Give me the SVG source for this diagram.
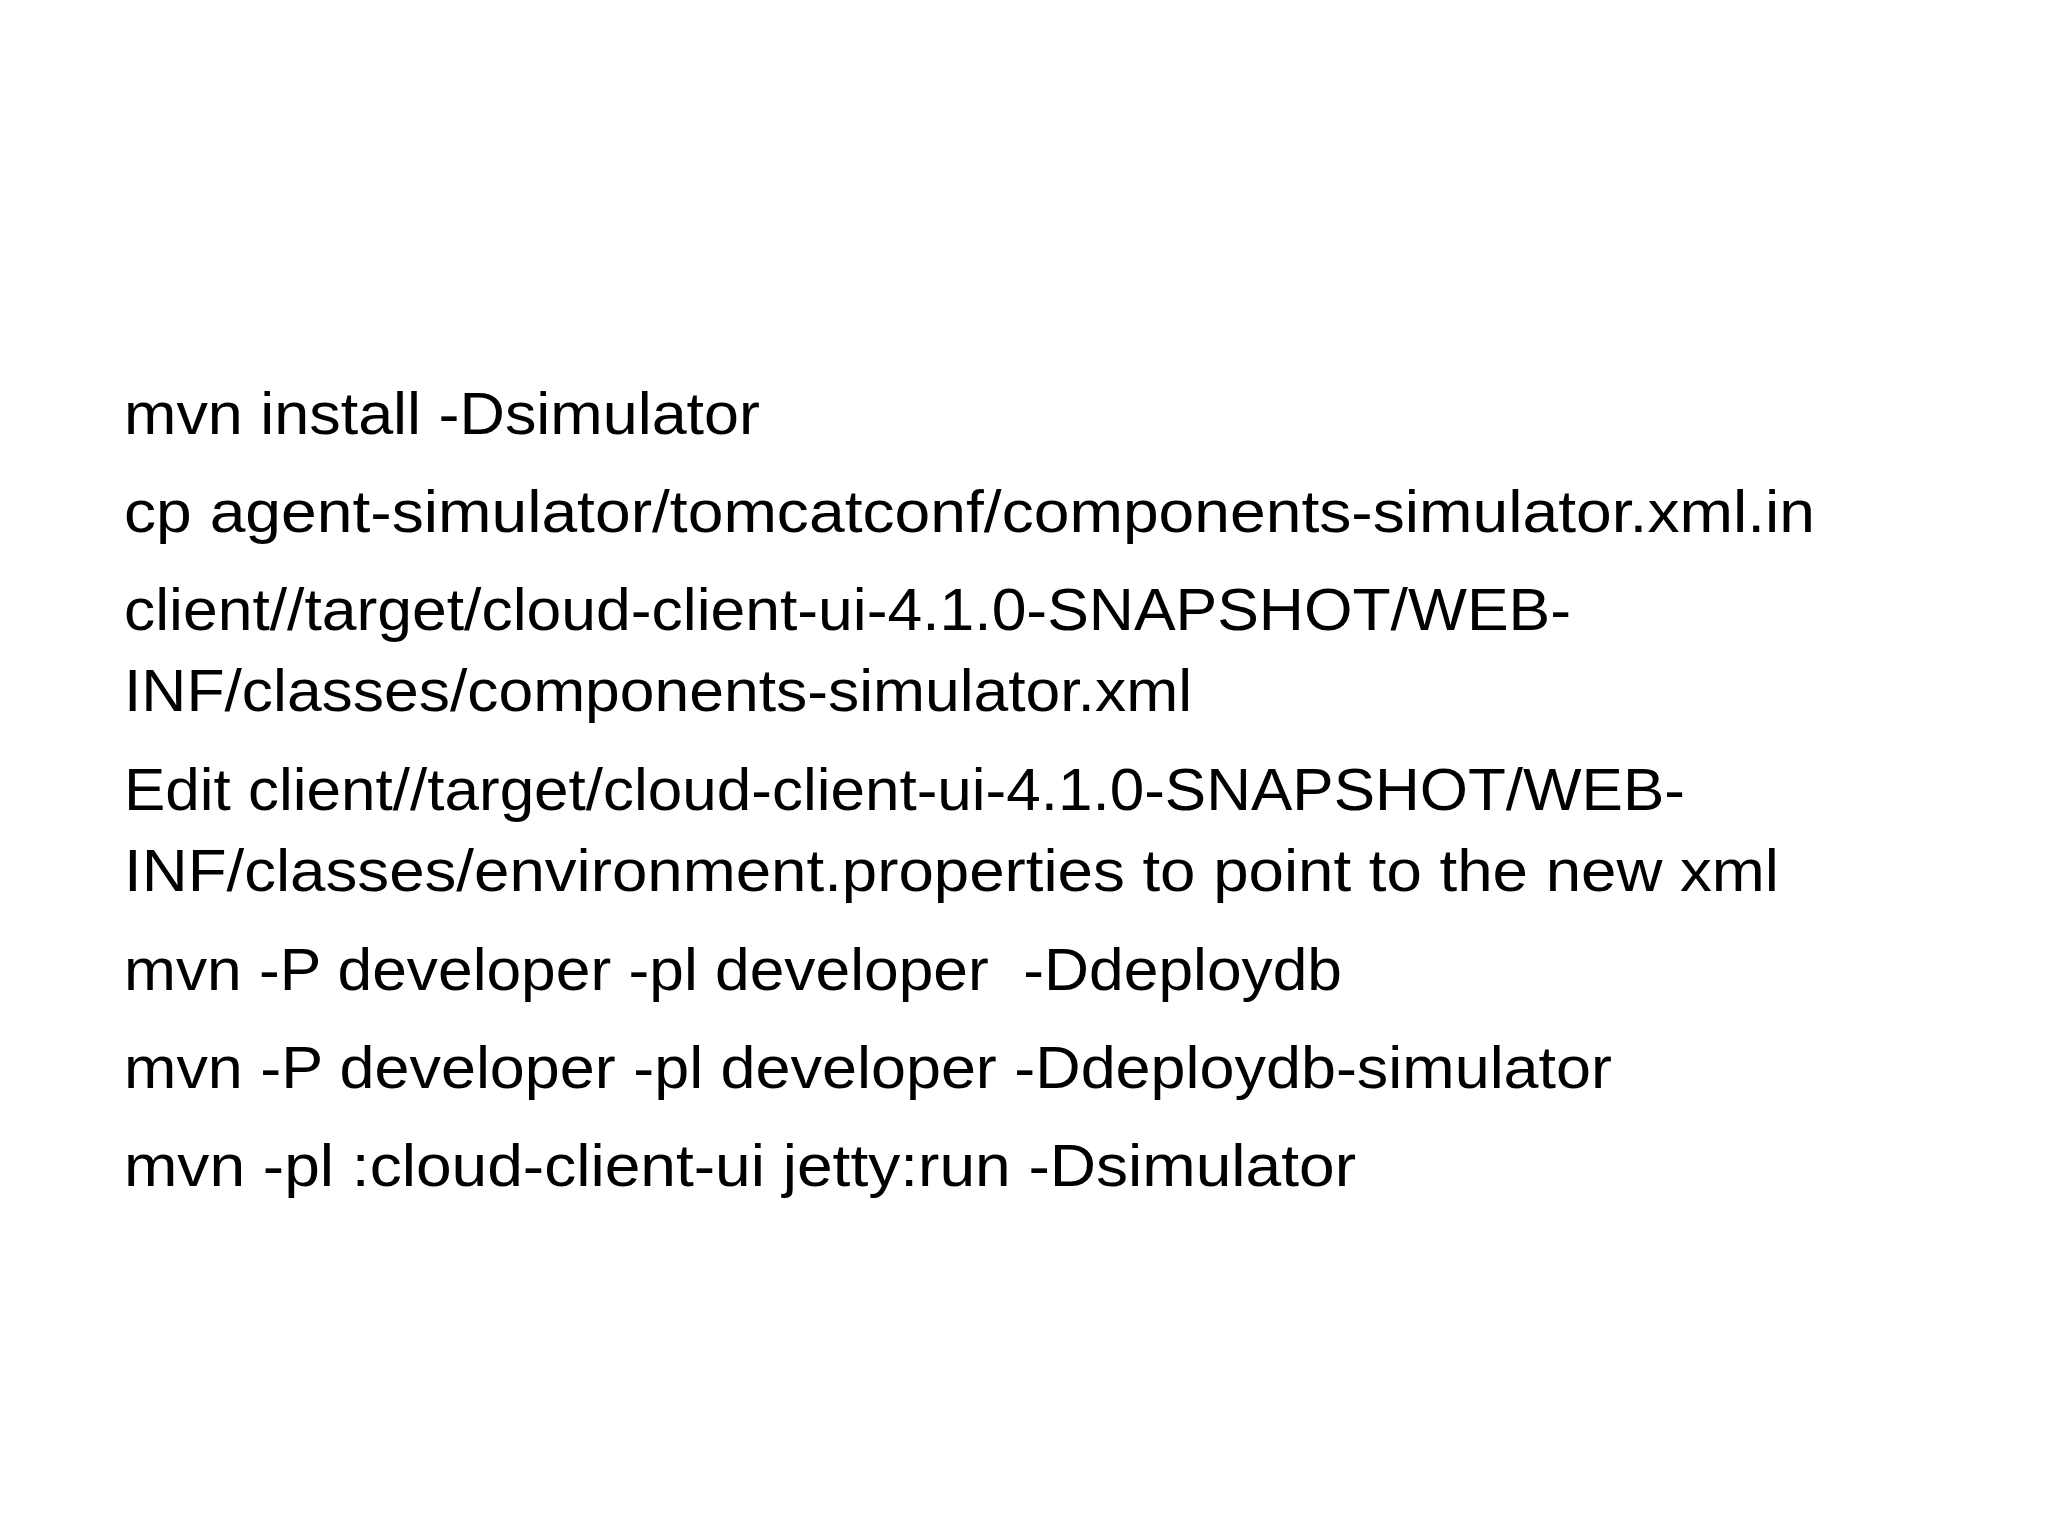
<svg xmlns="http://www.w3.org/2000/svg" width="2048" height="1536" viewBox="0 0 2048 1536">
<style>
text{font-family:"Liberation Sans","Open Sans",sans-serif;font-size:60px;fill:#000;white-space:pre}
</style>
<rect width="2048" height="1536" fill="#fff"/>
<g id="content">
<text x="124" y="434" textLength="636" lengthAdjust="spacingAndGlyphs">mvn install -Dsimulator</text>
<text x="124" y="532" textLength="1691" lengthAdjust="spacingAndGlyphs">cp agent-simulator/tomcatconf/components-simulator.xml.in</text>
<text x="124" y="630" textLength="1447" lengthAdjust="spacingAndGlyphs">client//target/cloud-client-ui-4.1.0-SNAPSHOT/WEB-</text>
<text x="124" y="711" textLength="1068" lengthAdjust="spacingAndGlyphs">INF/classes/components-simulator.xml</text>
<text x="124" y="810" textLength="1561" lengthAdjust="spacingAndGlyphs">Edit client//target/cloud-client-ui-4.1.0-SNAPSHOT/WEB-</text>
<text x="124" y="891" textLength="1655" lengthAdjust="spacingAndGlyphs">INF/classes/environment.properties to point to the new xml</text>
<text x="124" y="990" textLength="1218" lengthAdjust="spacingAndGlyphs">mvn -P developer -pl developer  -Ddeploydb</text>
<text x="124" y="1088" textLength="1488" lengthAdjust="spacingAndGlyphs">mvn -P developer -pl developer -Ddeploydb-simulator</text>
<text x="124" y="1186" textLength="1232" lengthAdjust="spacingAndGlyphs">mvn -pl :cloud-client-ui jetty:run -Dsimulator</text>
</g>
</svg>
